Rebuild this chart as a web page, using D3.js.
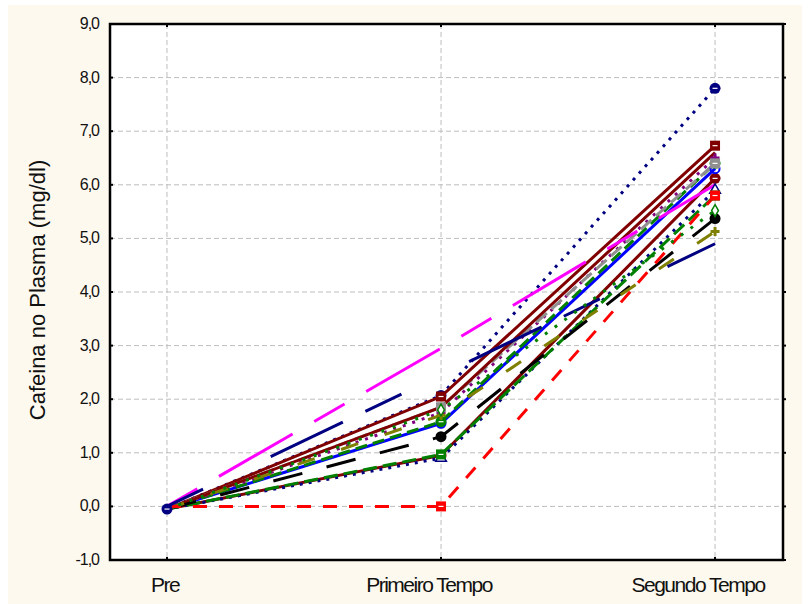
<!DOCTYPE html>
<html>
<head>
<meta charset="utf-8">
<script src="https://cdn.jsdelivr.net/npm/d3@7"></script>
<style>
  body { margin: 0; background: #ffffff; }
  svg text { font-family: "Liberation Sans", Arial, sans-serif; fill: #111; }
</style>
</head>
<body>
<svg id="chart" width="810" height="604"></svg>
<script>
// categories on the x axis
var categories = ['Pre', 'Primeiro Tempo', 'Segundo Tempo'];

// y axis ticks
var yTicks = [-1, 0, 1, 2, 3, 4, 5, 6, 7, 8, 9];

// one value per subject at each time point
var preValues      = [-0.05, -0.05, -0.05, -0.05, -0.05, -0.05, -0.05, -0.05, -0.05, -0.05, -0.05, -0.05, 0.0, 0.0, 0.0, -0.05];
var primeiroValues = [2.07, 2.05, 0.95, 0.90, 0.97, 1.55, 1.58, 1.75, 1.85, 1.85, 1.30, 1.70, 0.0, 2.95, 2.45, 1.80];
var segundoValues  = [7.80, 6.73, 6.12, 5.90, 5.80, 6.30, 6.40, 6.50, 6.40, 6.60, 5.37, 5.13, 5.80, 6.0, 4.9, 5.52];

// drawing style for each subject
var seriesStyle = [
  { color: '#000080', dash: '3,6',   marker: 'circle' },
  { color: '#800000', dash: null,    marker: 'square' },
  { color: '#800000', dash: null,    marker: 'circle' },
  { color: '#000080', dash: '3,6',   marker: 'triangle' },
  { color: '#008000', dash: '14,6',  marker: 'square' },
  { color: '#0000ff', dash: null,    marker: 'circleOpen' },
  { color: '#008000', dash: '12,6',  marker: 'circle' },
  { color: '#800080', dash: '3,7',   marker: 'star' },
  { color: '#909090', dash: '14,6',  marker: 'square' },
  { color: '#800000', dash: null,    marker: 'none' },
  { color: '#000000', dash: '30,25', marker: 'dot' },
  { color: '#808000', dash: '18,28', marker: 'star' },
  { color: '#ff0000', dash: '14,12', marker: 'square' },
  { color: '#ff00ff', dash: '35,25,85,25', marker: 'none' },
  { color: '#000080', dash: '40,75,80,25', marker: 'none' },
  { color: '#008000', dash: '3,9',   marker: 'diamond' }
];

(function() {
  var svg = d3.select('#chart');

  // cream page background
  svg.append('rect')
    .attr('x', 8).attr('y', 5)
    .attr('width', 794).attr('height', 599)
    .attr('fill', '#fdf9ee');

  var pl = 110, pr = 783, pt = 24, pb = 560;

  var x = d3.scaleLinear().domain([-0.208, 2.248]).range([pl, pr]);
  var y = d3.scaleLinear().domain([-1, 9]).range([pb, pt]);

  svg.append('rect')
    .attr('x', pl).attr('y', pt)
    .attr('width', pr - pl).attr('height', pb - pt)
    .attr('fill', '#ffffff');

  // grid
  var grid = svg.append('g');
  grid.selectAll('line.h')
    .data(yTicks.filter(function(d) { return d > -1 && d < 9; }))
    .enter().append('line')
    .attr('x1', pl).attr('x2', pr)
    .attr('y1', function(d) { return y(d); }).attr('y2', function(d) { return y(d); })
    .attr('stroke', '#bdbdbd').attr('stroke-width', 1).attr('stroke-dasharray', '5,3');
  grid.selectAll('line.v')
    .data(categories)
    .enter().append('line')
    .attr('y1', pt).attr('y2', pb)
    .attr('x1', function(d, i) { return x(i); }).attr('x2', function(d, i) { return x(i); })
    .attr('stroke', '#bdbdbd').attr('stroke-width', 1).attr('stroke-dasharray', '5,3');

  // series
  var rows = preValues.map(function(p, i) {
    return { vals: [p, primeiroValues[i], segundoValues[i]], style: seriesStyle[i] };
  });

  var line = d3.line()
    .x(function(d, i) { return x(i); })
    .y(function(d) { return y(d); });

  svg.append('g').selectAll('path.series')
    .data(rows)
    .enter().append('path')
    .attr('d', function(d) { return line(d.vals); })
    .attr('fill', 'none')
    .attr('stroke', function(d) { return d.style.color; })
    .attr('stroke-width', 3)
    .attr('stroke-dasharray', function(d) { return d.style.dash; });

  function drawMarker(g, type, color, cx, cy) {
    if (type === 'none') return;
    if (type === 'circle' || type === 'dot') {
      g.append('circle').attr('cx', cx).attr('cy', cy).attr('r', 5.5).attr('fill', color);
      if (type === 'circle') {
        g.append('line').attr('x1', cx - 2.5).attr('x2', cx + 2.5).attr('y1', cy).attr('y2', cy)
          .attr('stroke', '#fff').attr('stroke-width', 1.2);
      }
    } else if (type === 'circleOpen') {
      g.append('circle').attr('cx', cx).attr('cy', cy).attr('r', 4.5)
        .attr('fill', 'none').attr('stroke', color).attr('stroke-width', 2);
    } else if (type === 'square') {
      g.append('rect').attr('x', cx - 5).attr('y', cy - 5).attr('width', 10).attr('height', 10).attr('fill', color);
      g.append('line').attr('x1', cx - 2.5).attr('x2', cx + 2.5).attr('y1', cy).attr('y2', cy)
        .attr('stroke', '#fff').attr('stroke-width', 1.2);
    } else if (type === 'triangle') {
      g.append('path').attr('d', d3.symbol(d3.symbolTriangle, 50)())
        .attr('transform', 'translate(' + cx + ',' + cy + ')')
        .attr('fill', '#fff').attr('stroke', color).attr('stroke-width', 1.5);
    } else if (type === 'diamond') {
      g.append('path').attr('d', d3.symbol(d3.symbolDiamond, 40)())
        .attr('transform', 'translate(' + cx + ',' + cy + ')')
        .attr('fill', '#fff').attr('stroke', color).attr('stroke-width', 1.5);
    } else if (type === 'star') {
      g.append('path').attr('d', d3.symbol(d3.symbolCross, 45)())
        .attr('transform', 'translate(' + cx + ',' + cy + ')')
        .attr('fill', color);
    }
  }

  var markers = svg.append('g');
  rows.forEach(function(r) {
    r.vals.forEach(function(v, i) {
      if (i === 0) return;
      drawMarker(markers, r.style.marker, r.style.color, x(i), y(v));
    });
  });
  // starting marker shared by all subjects
  drawMarker(markers, 'circle', '#000080', x(0), y(preValues[0]));

  // frame
  svg.append('rect')
    .attr('x', pl).attr('y', pt)
    .attr('width', pr - pl).attr('height', pb - pt)
    .attr('fill', 'none').attr('stroke', '#000').attr('stroke-width', 2.5);

  // tick marks
  var ticks = svg.append('g').attr('stroke', '#000').attr('stroke-width', 2);
  yTicks.forEach(function(t) {
    ticks.append('line').attr('x1', pl).attr('x2', pl + 3).attr('y1', y(t)).attr('y2', y(t));
    ticks.append('line').attr('x1', pr).attr('x2', pr + 3).attr('y1', y(t)).attr('y2', y(t));
  });
  categories.forEach(function(c, i) {
    ticks.append('line').attr('x1', x(i)).attr('x2', x(i)).attr('y1', pt).attr('y2', pt + 3);
    ticks.append('line').attr('x1', x(i)).attr('x2', x(i)).attr('y1', pb).attr('y2', pb - 3);
  });

  // y labels
  var fmt = function(d) { return d3.format('.1f')(d).replace('.', ',').replace('\u2212', '-'); };
  svg.append('g').selectAll('text')
    .data(yTicks)
    .enter().append('text')
    .attr('x', 99).attr('y', function(d) { return y(d) + 5; })
    .attr('text-anchor', 'end')
    .attr('font-size', 16)
    .attr('letter-spacing', -1)
    .text(fmt);

  // x labels (the original software draws longer labels slightly left of the tick)
  var labelShift = [-2, -12, -17];
  svg.append('g').selectAll('text')
    .data(categories)
    .enter().append('text')
    .attr('x', function(d, i) { return x(i) + labelShift[i]; })
    .attr('y', 592)
    .attr('text-anchor', 'middle')
    .attr('font-size', 21)
    .attr('letter-spacing', -1.5)
    .text(function(d) { return d; });

  // y title
  svg.append('text')
    .attr('transform', 'translate(45,290) rotate(-90)')
    .attr('text-anchor', 'middle')
    .attr('font-size', 22)
    .text('Cafeina no Plasma (mg/dl)');
})();
</script>
</body>
</html>
